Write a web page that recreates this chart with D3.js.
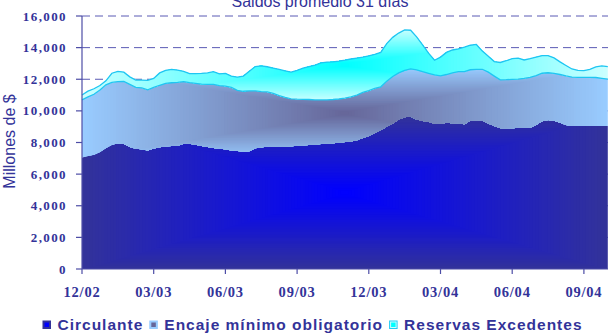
<!DOCTYPE html>
<html><head><meta charset="utf-8">
<script src="https://cdn.jsdelivr.net/npm/d3@7"></script>
<style>
html,body{margin:0;padding:0;background:#fff;overflow:hidden}
svg{display:block}
</style></head>
<body>
<svg id="chart" width="608" height="333"></svg>
<script>
// ---- data (quarter-month steps, starting 12/02) ----
const circulante = [7050,7150,7220,7400,7650,7850,7950,7900,7720,7600,7580,7500,7620,7700,7770,7780,7790,7920,7920,7850,7780,7720,7650,7600,7570,7500,7460,7430,7450,7630,7700,7730,7740,7735,7750,7770,7800,7820,7840,7870,7900,7920,7950,7980,8030,8070,8150,8280,8400,8600,8780,9000,9200,9450,9600,9650,9450,9360,9310,9170,9180,9250,9220,9210,9160,9380,9390,9380,9200,9050,8900,8900,8900,8940,8940,8940,9100,9350,9420,9380,9250,9100,9045,9045,9045,9045,9045,9045,9045];
const encaje = [3650,3730,3830,3920,4000,3950,3900,3960,3960,3890,3870,3830,3860,3920,3970,4000,4010,3930,3860,3890,3910,3960,4030,4000,3990,3980,3840,3810,3820,3640,3520,3470,3360,3225,3100,2990,2940,2910,2880,2830,2790,2780,2770,2770,2770,2810,2850,2890,2880,2820,2740,2880,2970,2950,2960,3000,3150,3120,3065,3100,3030,3050,3180,3270,3320,3220,3240,3250,3250,3150,3060,3070,3090,3070,3110,3180,3130,3030,2990,2995,3050,3110,3095,3075,3075,3075,3065,3015,2965];
const reservas = [300,370,350,280,250,580,650,590,470,460,500,600,570,780,820,850,780,650,570,610,680,720,800,740,810,720,830,960,1230,1530,1630,1590,1610,1660,1680,1690,1820,1970,2080,2200,2350,2380,2380,2400,2410,2400,2340,2230,2200,2150,2180,2370,2480,2520,2560,2450,2080,1700,1275,930,1190,1400,1450,1440,1550,1550,1570,1150,1010,920,1100,1200,1310,1320,1170,1180,1170,1120,1090,975,800,660,510,440,430,500,670,780,790];
const seriesNames = ["Circulante","Encaje mínimo obligatorio","Reservas Excedentes"];
const tickLabels = ["12/02","03/03","06/03","09/03","12/03","03/04","06/04","09/04"];
const tickSteps = [0,12,24,36,48,60,72,84];
const yTicks = [0,2000,4000,6000,8000,10000,12000,14000,16000];
const title = "Saldos promedio 31 días";
const yTitle = "Millones de $";

// ---- styles ----
const TXT = "#333399", AX = "#4d4da6";
const grads = [
  {inner:"#0000ff", outer:"#333399", stroke:"#333399"},
  {inner:"#666699", outer:"#99ccff", stroke:"#99ccff"},
  {inner:"#00ffff", outer:"#ccffff", stroke:"#22ccf5"}
];
const LINE = "#1fc6f2";

const svg = d3.select("#chart");
const rows = circulante.map((c,i)=>({i, c, e:encaje[i], r:reservas[i]}));
const stack = d3.stack().keys(["c","e","r"])(rows);

const x = d3.scaleLinear().domain([0, rows.length-1]).range([82, 607.8]);
const y = d3.scaleLinear().domain([0,16000]).range([269,16]);

// gridlines (behind)
svg.append("g").selectAll("line").data(yTicks.filter(v=>v>0)).join("line")
  .attr("x1",82).attr("x2",608).attr("y1",d=>y(d)).attr("y2",d=>y(d))
  .attr("stroke","#5a5ab4").attr("stroke-width",1).attr("stroke-dasharray","8,5");

const area = d3.area().x((d,i)=>x(i)).y0(d=>y(d[0])).y1(d=>y(d[1]));
const defs = svg.append("defs");

stack.forEach((s,k)=>{
  const id = "clip"+k;
  defs.append("clipPath").attr("id",id).append("path").attr("d", area(s));
  const x0 = x(0), x1 = x(rows.length-1);
  const yTop = d3.min(s, d=>y(d[1])), yBot = d3.max(s, d=>y(d[0]));
  const cx=(x0+x1)/2, cy=(yTop+yBot)/2, hw=(x1-x0)/2, hh=(yBot-yTop)/2;
  const interp = d3.interpolateRgb(grads[k].inner, grads[k].outer);
  const N = 90;
  const g = svg.append("g").attr("clip-path","url(#"+id+")");
  for(let j=N;j>=1;j--){
    const t=j/N;
    g.append("rect").attr("x",cx-hw*t-1).attr("y",cy-hh*t-1)
      .attr("width",2*hw*t+2).attr("height",2*hh*t+2)
      .attr("fill",interp(t));
  }
});

// boundary lines
const topLine = d3.line().x((d,i)=>x(i)).y(d=>y(d[1]));
[1,2].forEach(k=>{
  svg.append("path").attr("d",topLine(stack[k])).attr("fill","none")
    .attr("stroke",LINE).attr("stroke-width",1.3);
});

// axes
svg.append("line").attr("x1",82).attr("x2",82).attr("y1",16).attr("y2",269).attr("stroke",AX).attr("stroke-width",1.2);
svg.append("line").attr("x1",82).attr("x2",608).attr("y1",269).attr("y2",269).attr("stroke",AX).attr("stroke-width",1.2);
svg.append("g").selectAll("line").data(yTicks).join("line")
  .attr("x1",76).attr("x2",82).attr("y1",d=>y(d)).attr("y2",d=>y(d)).attr("stroke",AX).attr("stroke-width",1.2);
svg.append("g").selectAll("line").data(tickSteps).join("line")
  .attr("x1",d=>x(d)).attr("x2",d=>x(d)).attr("y1",269).attr("y2",274).attr("stroke",AX).attr("stroke-width",1.2);

svg.append("g").selectAll("text").data(yTicks).join("text")
  .attr("x",67).attr("y",d=>y(d)+4.5).attr("text-anchor","end")
  .attr("font-family","'Liberation Serif','Times New Roman',serif").attr("font-weight","bold")
  .attr("font-size","13px").attr("letter-spacing","1.4px").attr("fill",TXT)
  .text(d=>d3.format(",")(d));

svg.append("g").selectAll("text").data(tickSteps).join("text")
  .attr("x",(d,i)=>x(d)).attr("y",296.5).attr("text-anchor","middle")
  .attr("font-family","'Liberation Serif','Times New Roman',serif").attr("font-weight","bold")
  .attr("font-size","14.5px").attr("letter-spacing","0.8px").attr("fill",TXT)
  .text((d,i)=>tickLabels[i]);

// titles
svg.append("text").attr("x",320).attr("y",7).attr("text-anchor","middle")
  .attr("font-family","'Liberation Sans',Arial,sans-serif").attr("font-size","16px").attr("fill",TXT)
  .text(title);
svg.append("text").attr("transform","translate(15,141.5) rotate(-90)").attr("text-anchor","middle")
  .attr("font-family","'Liberation Sans',Arial,sans-serif").attr("font-size","16px").attr("fill",TXT)
  .text(yTitle);

// legend
const leg = svg.append("g");
let lx = 42.5;
seriesNames.forEach((name,k)=>{
  leg.append("rect").attr("x",lx+0.5).attr("y",321).attr("width",7.5).attr("height",7.5)
    .attr("fill",grads[k].outer).attr("stroke",grads[k].stroke).attr("stroke-width",1);
  leg.append("rect").attr("x",lx+2).attr("y",322.5).attr("width",4.5).attr("height",4.5).attr("fill",grads[k].inner);
  const t = leg.append("text").attr("x",lx+15).attr("y",329.5)
    .attr("font-family","'Liberation Sans',Arial,sans-serif").attr("font-weight","bold")
    .attr("font-size","15.5px").attr("letter-spacing","1px").attr("fill",TXT).text(name);
  lx = lx + 15 + t.node().getComputedTextLength() + 6;
});
</script>
</body></html>
